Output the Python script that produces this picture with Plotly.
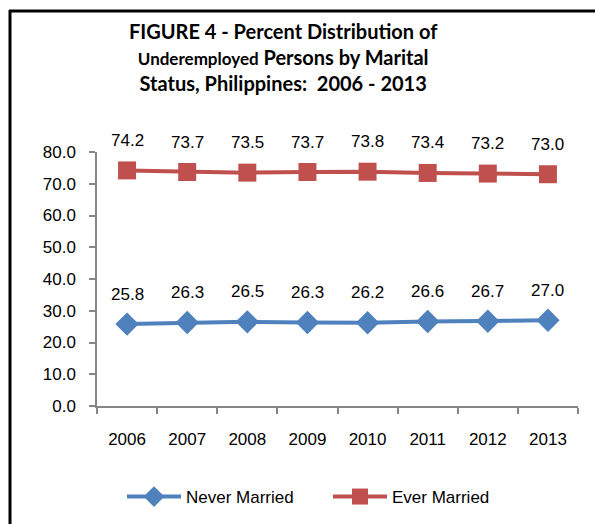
import plotly.graph_objects as go

years = ["2006", "2007", "2008", "2009", "2010", "2011", "2012", "2013"]
never_married = [25.8, 26.3, 26.5, 26.3, 26.2, 26.6, 26.7, 27.0]
ever_married = [74.2, 73.7, 73.5, 73.7, 73.8, 73.4, 73.2, 73.0]
y_ticks = [0, 10, 20, 30, 40, 50, 60, 70, 80]
title_text = ("FIGURE 4 - Percent Distribution of<br>"
              "<span style='font-size:17px'>Underemployed</span> Persons by Marital<br>"
              "Status, Philippines:  2006 - 2013")

BLUE = "#4F81BD"
RED = "#C0504D"
AX = "#868686"
FONT = "Liberation Sans, Arial, sans-serif"

fig = go.Figure()
fig.add_trace(go.Scatter(
    x=years, y=never_married, name="Never Married", mode="lines+markers",
    line=dict(color=BLUE, width=4),
    marker=dict(symbol="diamond", size=18, color=BLUE),
))
fig.add_trace(go.Scatter(
    x=years, y=ever_married, name="Ever Married", mode="lines+markers",
    line=dict(color=RED, width=4),
    marker=dict(symbol="square", size=18, color=RED),
))

W, H = 595, 524
L, R, T, B = 97, 17, 152, 118
pw, ph = W - L - R, H - T - B

def px_x(x):
    return (x - L) / pw

def px_y(y):
    return 1 - (y - T) / ph

annotations = []
for series in (never_married, ever_married):
    for i, v in enumerate(series):
        annotations.append(dict(
            x=i, y=v, xref="x", yref="y", text=f"{v:.1f}", showarrow=False,
            yshift=30, font=dict(family=FONT, size=17, color="black"),
        ))
annotations.append(dict(
    x=px_x(283), y=px_y(17), xref="paper", yref="paper", xanchor="center", yanchor="top",
    text=title_text, showarrow=False, align="center",
    font=dict(family="Lato, Open Sans, sans-serif", size=20, color="black", weight="bold"),
))

shapes = [
    dict(type="line", xref="paper", yref="paper", x0=px_x(10), x1=px_x(10),
         y0=px_y(10), y1=px_y(530), line=dict(color="black", width=3)),
    dict(type="line", xref="paper", yref="paper", x0=px_x(9), x1=px_x(600),
         y0=px_y(11), y1=px_y(11), line=dict(color="black", width=3)),
]

fig.update_layout(
    width=W, height=H,
    margin=dict(l=L, r=R, t=T, b=B, pad=0, autoexpand=False),
    paper_bgcolor="white", plot_bgcolor="white",
    xaxis=dict(
        type="category", range=[-0.5, 7.5], tickson="boundaries",
        ticks="outside", ticklen=6, tickcolor=AX, tickwidth=1.5,
        showline=True, linecolor=AX, linewidth=1.5, showgrid=False, zeroline=False,
        tickfont=dict(family=FONT, size=17, color="black"),
        ticklabelstandoff=17, automargin=False,
    ),
    yaxis=dict(
        range=[0, 80], tickvals=y_ticks, tickformat=".1f",
        ticks="outside", ticklen=6, tickcolor=AX, tickwidth=1.5,
        showline=True, linecolor=AX, linewidth=1.5, showgrid=False, zeroline=False,
        tickfont=dict(family=FONT, size=17, color="black"),
        ticklabelstandoff=10, automargin=False,
    ),
    showlegend=True,
    legend=dict(
        orientation="h", x=px_x(122), xanchor="left", y=px_y(497), yanchor="middle",
        font=dict(family=FONT, size=17, color="black"),
        bgcolor="rgba(0,0,0,0)", itemwidth=54, entrywidth=137,
    ),
    annotations=annotations,
    shapes=shapes,
)

fig.write_html("out.html", config={"displayModeBar": False},
               post_script="document.body.style.margin='0';")
